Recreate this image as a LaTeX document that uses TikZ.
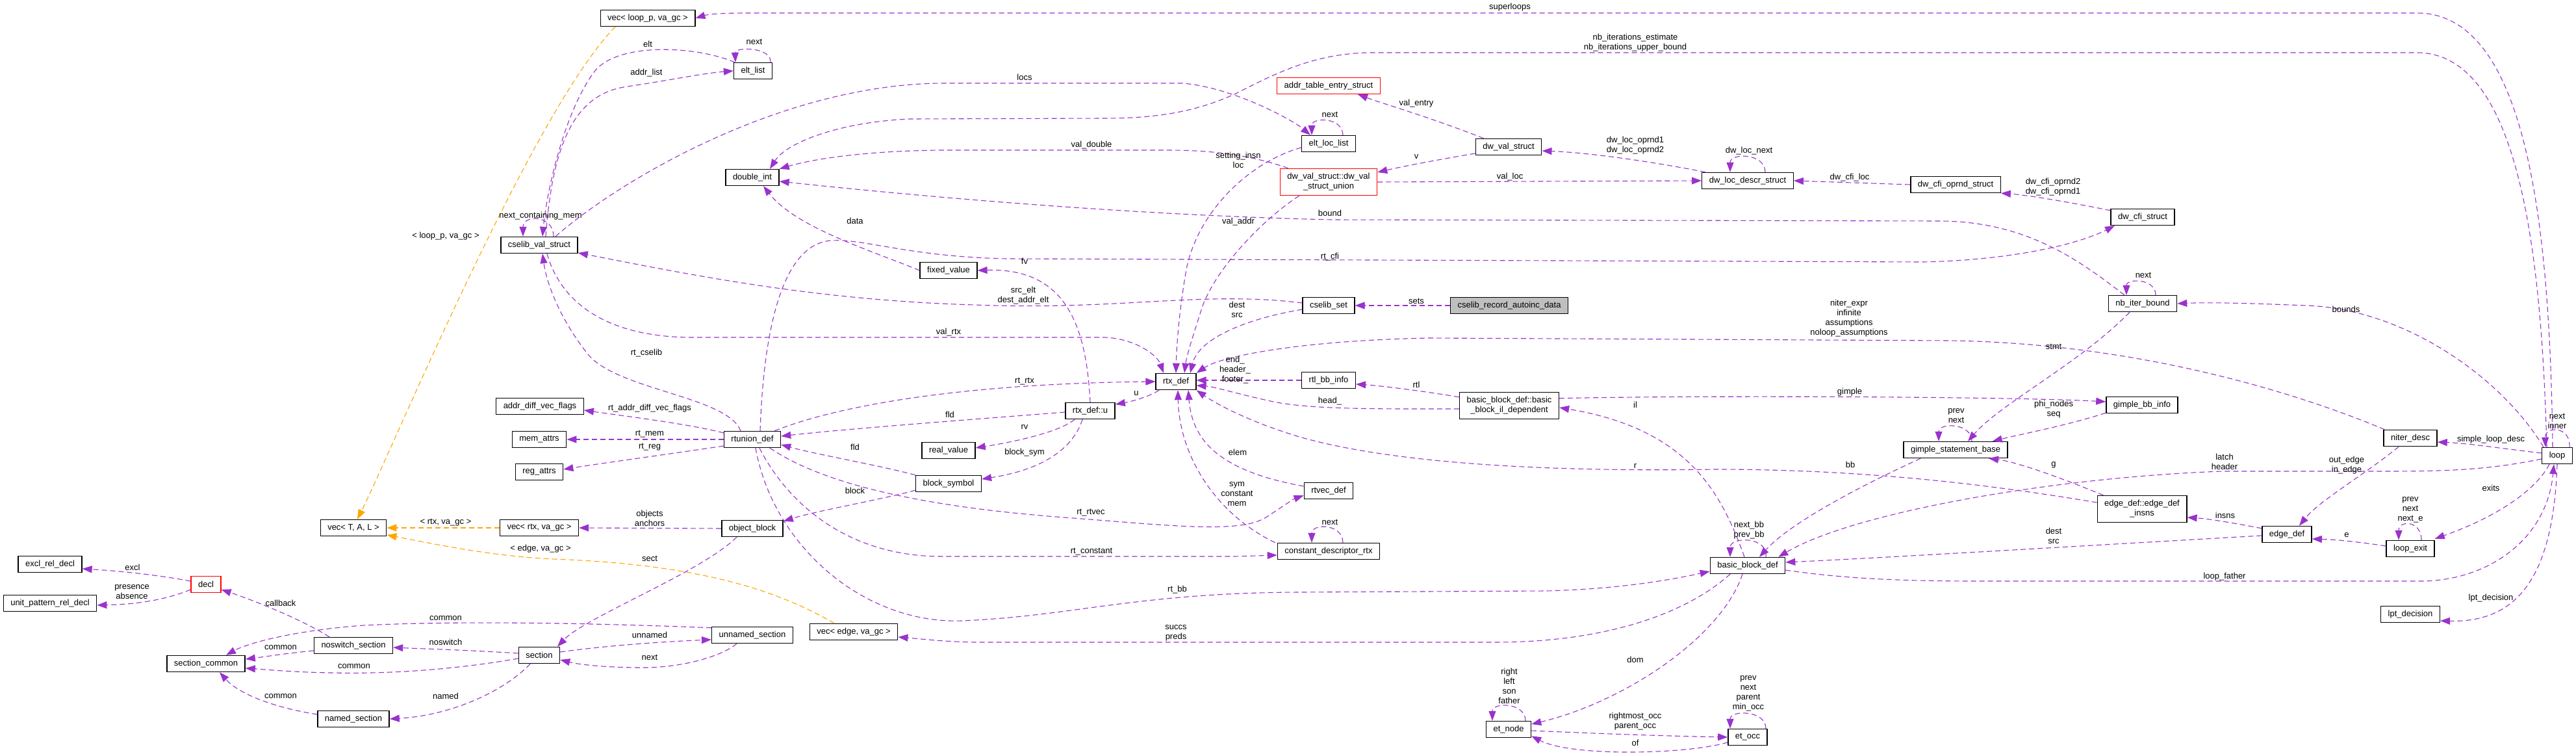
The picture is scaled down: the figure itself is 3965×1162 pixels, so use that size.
\documentclass[tikz,border=0pt]{standalone}
\usepackage{xcolor}
\usepackage{fontspec}
\setmainfont{Liberation Sans}
\usepackage{tikz}
\usetikzlibrary{arrows.meta,calc}
\definecolor{edgepurple}{HTML}{9A32CD}
\definecolor{tmplorange}{HTML}{FFA500}
\definecolor{mainfill}{HTML}{BFBFBF}
\begin{document}
\begin{tikzpicture}[x=.5pt,y=-.5pt,
  cls/.style={draw=black,line width=0.7pt,fill=white,inner xsep=5.5pt,inner ysep=0pt,minimum height=12.5pt,font=\fontsize{6.5}{7.5}\selectfont,align=center},
  clsred/.style={cls,draw=red},
  clsmain/.style={cls,fill=mainfill},
  member/.style={draw=edgepurple,line width=0.55pt,dash pattern=on 4pt off 2.5pt,-{Triangle[length=7.5pt,width=5.5pt]}},
  inst/.style={member,draw=tmplorange},
  lbl/.style={inner sep=0pt,font=\fontsize{6.5}{7.5}\selectfont,align=center}]
\path[use as bounding box] (0,0) rectangle (3965,1162);
\path[fill=white,draw=none] (0,0) rectangle (3965,1162);
% classes
\node[cls] (exclRel) at (77,868) {excl\_rel\_decl};
\node[cls] (unitPat) at (77,928) {unit\_pattern\_rel\_decl};
\node[clsred] (decl) at (317,899) {decl};
\node[cls] (secCommon) at (317,1021) {section\_common};
\node[cls] (vecTAL) at (544,812) {vec< T, A, L >};
\node[cls] (noswitch) at (544,993) {noswitch\_section};
\node[cls] (named) at (544,1106) {named\_section};
\node[cls] (cvs) at (830,377) {cselib\_val\_struct};
\node[cls] (adfv) at (831,625) {addr\_diff\_vec\_flags};
\node[cls] (memAttrs) at (830,676) {mem\_attrs};
\node[cls] (regAttrs) at (830,726) {reg\_attrs};
\node[cls] (vecRtx) at (830,812) {vec< rtx, va\_gc >};
\node[cls] (section) at (830,1008) {section};
\node[cls] (vecLoop) at (997,28) {vec< loop\_p, va\_gc >};
\node[cls] (eltList) at (1159,109) {elt\_list};
\node[cls] (doubleInt) at (1158,273) {double\_int};
\node[cls] (rtunion) at (1158,676) {rtunion\_def};
\node[cls] (objBlock) at (1158,813) {object\_block};
\node[cls] (unnamed) at (1158,977) {unnamed\_section};
\node[cls] (vecEdge) at (1314,972) {vec< edge, va\_gc >};
\node[cls] (fixedVal) at (1460,416) {fixed\_value};
\node[cls] (realVal) at (1460,693) {real\_value};
\node[cls] (blockSym) at (1460,744) {block\_symbol};
\node[cls] (rtxU) at (1678,632) {rtx\_def::u};
\node[cls] (rtx) at (1810,587) {rtx\_def};
\node[clsred] (addrTable) at (2045,132) {addr\_table\_entry\_struct};
\node[cls] (eltLoc) at (2045,221) {elt\_loc\_list};
\node[clsred,minimum height=20.5pt] (dwUnion) at (2045,280) {dw\_val\_struct::dw\_val\\\_struct\_union};
\node[cls] (cselibSet) at (2045,470) {cselib\_set};
\node[cls] (rtlBB) at (2045,585) {rtl\_bb\_info};
\node[cls] (rtvec) at (2045,755) {rtvec\_def};
\node[cls] (constDesc) at (2045,848) {constant\_descriptor\_rtx};
\node[cls] (dwVal) at (2322,226) {dw\_val\_struct};
\node[clsmain] (autoinc) at (2323,470) {cselib\_record\_autoinc\_data};
\node[cls,minimum height=20.5pt] (bbIl) at (2323,624) {basic\_block\_def::basic\\\_block\_il\_dependent};
\node[cls] (etNode) at (2322,1122) {et\_node};
\node[cls] (dwLoc) at (2690,278) {dw\_loc\_descr\_struct};
\node[cls] (bbDef) at (2690,870) {basic\_block\_def};
\node[cls] (etOcc) at (2690,1134) {et\_occ};
\node[cls] (dwCfiOp) at (3010,284) {dw\_cfi\_oprnd\_struct};
\node[cls] (gsb) at (3010,692) {gimple\_statement\_base};
\node[cls] (dwCfi) at (3298,334) {dw\_cfi\_struct};
\node[cls] (nbIter) at (3298,467) {nb\_iter\_bound};
\node[cls] (gbbInfo) at (3297,623) {gimple\_bb\_info};
\node[cls,minimum height=20.5pt] (edgeIns) at (3297,783) {edge\_def::edge\_def\\\_insns};
\node[cls] (edgeDef) at (3520,822) {edge\_def};
\node[cls] (niterDesc) at (3710,674) {niter\_desc};
\node[cls] (loopExit) at (3710,844) {loop\_exit};
\node[cls] (lptDec) at (3710,945) {lpt\_decision};
\node[cls] (loop) at (3936,701) {loop};
% template instances
\draw[inst] ($(vecLoop.south)+(-50,0)$) .. controls (820,170) and (600,700) .. ($(vecTAL.north)+(6,0)$);
\draw[inst] (vecRtx.west) -- (vecTAL.east);
\draw[inst] ($(vecEdge.north)+(-30,0)$) .. controls (1200,910) and (1080,868) .. (850,860) .. controls (750,855) and (660,835) .. ($(vecTAL.east)+(0,11)$);
% members, left part
\draw[member] ($(decl.west)+(0,-5)$) .. controls (240,884) and (180,878) .. ($(exclRel.east)+(0,7)$);
\draw[member] ($(decl.west)+(0,8)$) .. controls (250,925) and (200,930) .. ($(unitPat.east)+(0,3)$);
\draw[member] ($(noswitch.north)+(-37,0)$) .. controls (460,950) and (380,920) .. ($(decl.east)+(0,8)$);
\draw[member] ($(noswitch.west)+(0,8)$) .. controls (440,1005) and (410,1010) .. ($(secCommon.east)+(0,-7)$);
\draw[member] ($(section.west)+(0,-3)$) .. controls (720,1000) and (650,998) .. ($(noswitch.east)+(0,3)$);
\draw[member] ($(section.west)+(0,5)$) .. controls (700,1030) and (600,1037) .. (510,1035) .. controls (450,1034) and (410,1030) .. ($(secCommon.east)+(0,7)$);
\draw[member] ($(section.south)+(-14,0)$) .. controls (780,1060) and (700,1100) .. (named.east);
\draw[member] ($(named.west)+(0,-7)$) .. controls (430,1090) and (370,1070) .. ($(secCommon.south)+(21,0)$);
\draw[member] ($(unnamed.north west)+(0,2)$) .. controls (900,958) and (700,955) .. (560,962) .. controls (450,970) and (380,990) .. ($(secCommon.north)+(31,0)$);
\draw[member] ($(section.east)+(0,-5)$) .. controls (920,995) and (1000,988) .. ($(unnamed.west)+(0,7)$);
\draw[member] ($(unnamed.south)+(-24,0)$) .. controls (1110,1010) and (1050,1027) .. (990,1027) .. controls (930,1027) and (890,1022) .. ($(section.east)+(0,7)$);
\draw[member] ($(objBlock.south)+(-24,0)$) .. controls (1080,880) and (900,950) .. ($(section.north)+(28,0)$);
\draw[member] (objBlock.west) -- (vecRtx.east);
\draw[member] ($(rtunion.west)+(0,-10)$) .. controls (1060,652) and (960,640) .. ($(adfv.east)+(0,6)$);
\draw[member] (rtunion.west) -- (memAttrs.east);
\draw[member] ($(rtunion.west)+(0,10)$) .. controls (1020,700) and (930,712) .. ($(regAttrs.east)+(0,-4)$);
\draw[member] ($(rtunion.north)+(-18,0)$) .. controls (1120,610) and (950,600) .. (905,545) .. controls (865,495) and (842,440) .. ($(cvs.south)+(5,0)$);
\draw[member] ($(cvs.north)+(22,0)$) .. controls (852,330) and (805,330) .. ($(cvs.north)+(-25,0)$);
\draw[member] ($(eltList.north west)+(2,0)$) .. controls (1070,70) and (950,65) .. (915,110) .. controls (870,170) and (842,290) .. ($(cvs.north)+(5,0)$);
\draw[member] ($(cvs.north)+(10,0)$) .. controls (850,230) and (880,148) .. (960,134) .. controls (1040,122) and (1080,113) .. (eltList.west);
\draw[member] ($(eltList.north)+(27,0)$) .. controls (1188,72) and (1131,72) .. ($(eltList.north)+(-27,0)$);
\draw[member] ($(cvs.north)+(25,0)$) .. controls (950,280) and (1200,130) .. (1450,128) -- (1820,128) .. controls (1900,135) and (1990,185) .. ($(eltLoc.north west)+(14,0)$);
\draw[member] ($(cvs.south)+(12,0)$) .. controls (860,455) and (920,517) .. (1060,519) -- (1700,519) .. controls (1750,521) and (1782,548) .. ($(rtx.north)+(-19,0)$);
\draw[member] (fixedVal.west) .. controls (1340,385) and (1225,350) .. ($(doubleInt.south)+(17,0)$);
\draw[member] (rtxU.north) .. controls (1672,500) and (1640,412) .. (fixedVal.east);
\draw[member] ($(rtx.south)+(-26,0)$) .. controls (1770,610) and (1740,618) .. ($(rtxU.east)+(0,-10)$);
\draw[member] ($(rtxU.west)+(0,2)$) .. controls (1500,645) and (1300,660) .. ($(rtunion.east)+(0,-5)$);
\draw[member] ($(rtxU.south west)+(15,0)$) .. controls (1630,665) and (1560,680) .. ($(realVal.east)+(0,-4)$);
\draw[member] ($(rtxU.south)+(-12,0)$) .. controls (1655,680) and (1620,720) .. ($(blockSym.east)+(0,-7)$);
\draw[member] ($(rtunion.north east)+(-10,0)$) .. controls (1300,620) and (1500,590) .. (rtx.west);
\draw[member] (blockSym.north west) .. controls (1350,715) and (1260,700) .. ($(rtunion.east)+(0,8)$);
\draw[member] ($(blockSym.south west)+(0,-3)$) .. controls (1350,770) and (1260,785) .. ($(objBlock.north east)+(0,2)$);
\draw[member] ($(rtunion.south)+(27,0)$) .. controls (1260,740) and (1400,778) .. (1638,796) .. controls (1800,808) and (1910,822) .. (1950,795) .. controls (1970,782) and (1990,768) .. ($(rtvec.south west)+(0,-6)$);
\draw[member] ($(rtunion.south)+(11,0)$) .. controls (1210,770) and (1300,856) .. (1450,856) -- (1900,856) -- ($(constDesc.west)+(0,6)$);
\draw[member] ($(rtunion.south)+(5,0)$) .. controls (1190,840) and (1330,960) .. (1480,955) .. controls (1650,948) and (1750,912) .. (2000,911) -- (2380,909) .. controls (2500,906) and (2580,890) .. ($(bbDef.west)+(0,9)$);
\draw[member] ($(rtunion.north)+(12,0)$) .. controls (1175,520) and (1200,375) .. (1280,370) .. controls (1330,367) and (1400,395) .. (1550,398) -- (2960,403) .. controls (3100,400) and (3200,375) .. ($(dwCfi.south)+(-43,0)$);
% members, middle part
\draw[member] (autoinc.west) -- (cselibSet.east);
\draw[member] ($(cselibSet.west)+(0,-4)$) .. controls (1850,447) and (1720,478) .. (1500,469) .. controls (1250,462) and (1050,420) .. ($(cvs.east)+(0,12)$);
\draw[member] ($(cselibSet.west)+(0,6)$) .. controls (1920,490) and (1845,520) .. ($(rtx.north)+(22,0)$);
\draw[member] ($(eltLoc.north)+(22,0)$) .. controls (2067,180) and (2019,180) .. ($(eltLoc.north)+(-26,0)$);
\draw[member] ($(eltLoc.west)+(0,6)$) .. controls (1920,250) and (1840,330) .. (1825,420) .. controls (1815,480) and (1811,530) .. (rtx.north);
\draw[member] ($(dwUnion.south west)+(30,0)$) .. controls (1940,340) and (1865,420) .. (1848,480) .. controls (1835,520) and (1826,550) .. ($(rtx.north)+(13,0)$);
\draw[member] ($(dwUnion.north west)+(13,0)$) .. controls (1930,240) and (1870,231) .. (1800,231) -- (1450,231) .. controls (1330,232) and (1250,245) .. (doubleInt.north east);
\draw[member] ($(dwVal.north west)+(13,0)$) .. controls (2200,180) and (2130,160) .. ($(addrTable.south east)+(-35,0)$);
\draw[member] ($(dwVal.west)+(0,10)$) .. controls (2200,248) and (2150,258) .. ($(dwUnion.east)+(0,-15)$);
\draw[member] (dwUnion.east) -- (dwLoc.west);
\draw[member] ($(dwLoc.north west)+(6,0)$) .. controls (2550,250) and (2450,235) .. ($(dwVal.east)+(0,6)$);
\draw[member] ($(dwLoc.north)+(27,0)$) .. controls (2717,235) and (2663,235) .. ($(dwLoc.north)+(-27,0)$);
\draw[member] (dwCfiOp.west) -- (dwLoc.east);
\draw[member] ($(dwCfi.north west)+(0,3)$) .. controls (3180,310) and (3120,300) .. (dwCfiOp.south east);
\draw[member] (rtlBB.west) -- ($(rtx.east)+(0,-2)$);
\draw[member] ($(bbIl.west)+(0,5)$) .. controls (2120,629) and (2020,630) .. (1960,618) .. controls (1900,605) and (1870,595) .. ($(rtx.east)+(0,6)$);
\draw[member] ($(bbIl.north west)+(0,8)$) .. controls (2180,600) and (2120,593) .. ($(rtlBB.east)+(0,6)$);
\draw[member] ($(rtvec.west)+(0,-7)$) .. controls (1880,725) and (1835,680) .. ($(rtx.south)+(19,0)$);
\draw[member] ($(constDesc.north west)+(-3,0)$) .. controls (1870,790) and (1815,700) .. ($(rtx.south)+(3,0)$);
\draw[member] ($(constDesc.north)+(22,0)$) .. controls (2067,805) and (2019,805) .. ($(constDesc.north)+(-26,0)$);
\draw[member] ($(edgeIns.west)+(0,-10)$) .. controls (3100,752) and (2900,722) .. (2640,722) .. controls (2400,726) and (2150,715) .. (2000,672) .. controls (1920,648) and (1870,620) .. (rtx.south east);
\draw[member] ($(niterDesc.north west)+(2,0)$) .. controls (3550,610) and (3300,528) .. (3000,524) -- (2200,520) .. controls (2000,524) and (1880,548) .. (rtx.north east);
% members, right part
\draw[member] ($(bbIl.north east)+(0,10)$) .. controls (2600,608) and (3100,610) .. ($(gbbInfo.west)+(0,-5)$);
\draw[member] ($(bbDef.north)+(-5,0)$) .. controls (2650,760) and (2600,660) .. ($(bbIl.east)+(0,3)$);
\draw[member] ($(bbDef.north)+(28,0)$) .. controls (2722,825) and (2663,825) .. ($(bbDef.north)+(-27,0)$);
\draw[member] ($(bbDef.south)+(-27,0)$) .. controls (2600,940) and (2480,988) .. (2300,988) -- (1500,988) .. controls (1450,987) and (1420,983) .. ($(vecEdge.east)+(0,8)$);
\draw[member] ($(bbDef.south)+(-8,0)$) .. controls (2650,980) and (2500,1080) .. ($(etNode.east)+(0,-8)$);
\draw[member] ($(etNode.north)+(26,0)$) .. controls (2348,1080) and (2297,1080) .. ($(etNode.north)+(-25,0)$);
\draw[member] ($(etNode.east)+(0,2)$) .. controls (2450,1128) and (2550,1132) .. (etOcc.west);
\draw[member] ($(etOcc.west)+(0,8)$) .. controls (2600,1160) and (2420,1165) .. ($(etNode.south east)+(0,-3)$);
\draw[member] ($(etOcc.north)+(28,0)$) .. controls (2718,1092) and (2663,1092) .. ($(etOcc.north)+(-27,0)$);
\draw[member] ($(gbbInfo.south west)+(0,-1)$) .. controls (3180,655) and (3110,668) .. ($(gsb.north east)+(-24,0)$);
\draw[member] ($(gsb.north)+(25,0)$) .. controls (3035,650) and (2984,650) .. ($(gsb.north)+(-26,0)$);
\draw[member] ($(gsb.south west)+(27,0)$) .. controls (2880,740) and (2760,800) .. ($(bbDef.north)+(18,0)$);
\draw[member] ($(nbIter.south)+(-20,0)$) .. controls (3200,560) and (3080,620) .. ($(gsb.north)+(19,0)$);
\draw[member] ($(nbIter.north west)+(25,0)$) .. controls (3200,400) and (3120,342) .. (2990,340) -- (2050,338) .. controls (1700,330) and (1350,295) .. ($(doubleInt.east)+(0,6)$);
\draw[member] ($(nbIter.north)+(20,0)$) .. controls (3318,428) and (3273,428) .. ($(nbIter.north)+(-25,0)$);
\draw[member] ($(edgeIns.north west)+(10,0)$) .. controls (3160,730) and (3100,710) .. ($(gsb.south)+(51,0)$);
\draw[member] ($(edgeDef.north west)+(0,4)$) .. controls (3440,805) and (3400,798) .. ($(edgeIns.east)+(0,13)$);
\draw[member] ($(edgeDef.west)+(0,2)$) .. controls (3200,840) and (2900,858) .. ($(bbDef.east)+(0,-5)$);
\draw[member] ($(loopExit.west)+(0,-4)$) .. controls (3620,832) and (3590,830) .. ($(edgeDef.east)+(0,7)$);
\draw[member] ($(loopExit.north)+(17,0)$) .. controls (3727,800) and (3692,800) .. ($(loopExit.north)+(-18,0)$);
\draw[member] ($(niterDesc.south)+(-18,0)$) .. controls (3640,730) and (3570,770) .. ($(edgeDef.north)+(19,0)$);
\draw[member] ($(loop.west)+(0,-4)$) .. controls (3850,690) and (3800,682) .. ($(niterDesc.east)+(0,6)$);
\draw[member] ($(loop.west)+(0,5)$) .. controls (3820,725) and (3750,725) .. (3650,725) -- (3420,725) .. controls (3150,735) and (2850,790) .. ($(bbDef.north east)+(-11,0)$);
\draw[member] ($(loop.south)+(-12,0)$) .. controls (3900,760) and (3830,800) .. ($(loopExit.north east)+(0,-2)$);
\draw[member] ($(bbDef.east)+(0,7)$) .. controls (2850,892) and (2950,894) .. (3050,894) -- (3730,894) .. controls (3830,892) and (3920,830) .. ($(loop.south)+(-5,0)$);
\draw[member] (loop.south) .. controls (3930,880) and (3880,958) .. ($(lptDec.east)+(0,10)$);
\draw[member] ($(loop.north)+(19,0)$) .. controls (3957,655) and (3917,655) .. ($(loop.north)+(-18,0)$);
\draw[member] ($(loop.north)+(-21,0)$) .. controls (3850,580) and (3700,475) .. (3550,470) .. controls (3450,466) and (3400,465) .. (nbIter.east);
\draw[member] ($(loop.north)+(-16,0)$) .. controls (3912,400) and (3880,81) .. (3720,81) -- (2110,81) .. controls (2020,82) and (1960,115) .. (1900,145) .. controls (1840,172) and (1780,182) .. (1700,182) -- (1400,183) .. controls (1290,188) and (1210,220) .. ($(doubleInt.north)+(27,0)$);
\draw[member] ($(loop.north)+(-7,0)$) .. controls (3925,350) and (3890,20) .. (3720,20) -- (1150,20) .. controls (1110,20) and (1090,22) .. (vecLoop.east);
% labels
\node[lbl] (lLoopP) at (686,363) {< loop\_p, va\_gc >};
\node[lbl] (lRtxGc) at (686,804) {< rtx, va\_gc >};
\node[lbl] (lEdgeGc) at (832,844) {< edge, va\_gc >};
\node[lbl] (lExcl) at (204,873) {excl};
\node[lbl] (lPresence) at (203,911) {presence\\absence};
\node[lbl] (lCallback) at (432,928) {callback};
\node[lbl] (lCommonA) at (686,951) {common};
\node[lbl] (lCommonB) at (432,996) {common};
\node[lbl] (lNoswitch) at (686,988) {noswitch};
\node[lbl] (lCommonC) at (545,1025) {common};
\node[lbl] (lNamed) at (686,1071) {named};
\node[lbl] (lCommonD) at (432,1071) {common};
\node[lbl] (lUnnamed) at (1000,977) {unnamed};
\node[lbl] (lNextSec) at (1000,1011) {next};
\node[lbl] (lSect) at (1000,859) {sect};
\node[lbl] (lObjects) at (1000,797) {objects\\anchors};
\node[lbl] (lAddrDiff) at (1000,628) {rt\_addr\_diff\_vec\_flags};
\node[lbl] (lRtMem) at (1000,668) {rt\_mem};
\node[lbl] (lRtReg) at (1000,688) {rt\_reg};
\node[lbl] (lRtCselib) at (995,543) {rt\_cselib};
\node[lbl] (lNextCont) at (832,332) {next\_containing\_mem};
\node[lbl] (lElt) at (997,68) {elt};
\node[lbl] (lAddrList) at (995,112) {addr\_list};
\node[lbl] (lNextElt) at (1161,64) {next};
\node[lbl] (lLocs) at (1577,119) {locs};
\node[lbl] (lValDouble) at (1680,223) {val\_double};
\node[lbl] (lSetting) at (1906,246) {setting\_insn\\loc};
\node[lbl] (lData) at (1316,340) {data};
\node[lbl] (lValAddr) at (1906,341) {val\_addr};
\node[lbl] (lFv) at (1577,402) {fv};
\node[lbl] (lSrcElt) at (1575,455) {src\_elt\\dest\_addr\_elt};
\node[lbl] (lDestSrcA) at (1904,476) {dest\\src};
\node[lbl] (lValRtx) at (1460,511) {val\_rtx};
\node[lbl] (lEndHdr) at (1901,569) {end\_\\header\_\\footer\_};
\node[lbl] (lRtRtx) at (1577,587) {rt\_rtx};
\node[lbl] (lU) at (1749,605) {u};
\node[lbl] (lFldA) at (1462,638) {fld};
\node[lbl] (lRv) at (1577,657) {rv};
\node[lbl] (lFldB) at (1316,688) {fld};
\node[lbl] (lBlockSym) at (1577,696) {block\_sym};
\node[lbl] (lElem) at (1905,696) {elem};
\node[lbl] (lBlock) at (1316,755) {block};
\node[lbl] (lSym) at (1904,760) {sym\\constant\\mem};
\node[lbl] (lRtRtvec) at (1679,789) {rt\_rtvec};
\node[lbl] (lRtConst) at (1680,849) {rt\_constant};
\node[lbl] (lRtBb) at (1812,907) {rt\_bb};
\node[lbl] (lSuccs) at (1810,974) {succs\\preds};
\node[lbl] (lSuperloops) at (2324,11) {superloops};
\node[lbl] (lNbIter) at (2517,66) {nb\_iterations\_estimate\\nb\_iterations\_upper\_bound};
\node[lbl] (lValEntry) at (2180,159) {val\_entry};
\node[lbl] (lNextLoc) at (2047,176) {next};
\node[lbl] (lV) at (2180,241) {v};
\node[lbl] (lValLoc) at (2324,272) {val\_loc};
\node[lbl] (lOprnd) at (2517,224) {dw\_loc\_oprnd1\\dw\_loc\_oprnd2};
\node[lbl] (lLocNext) at (2692,232) {dw\_loc\_next};
\node[lbl] (lCfiLoc) at (2847,273) {dw\_cfi\_loc};
\node[lbl] (lBound) at (2047,328) {bound};
\node[lbl] (lRtCfi) at (2047,395) {rt\_cfi};
\node[lbl] (lSets) at (2180,463) {sets};
\node[lbl] (lNiter) at (2846,490) {niter\_expr\\infinite\\assumptions\\noloop\_assumptions};
\node[lbl] (lRtl) at (2180,592) {rtl};
\node[lbl] (lHead) at (2047,617) {head\_};
\node[lbl] (lGimple) at (2847,603) {gimple};
\node[lbl] (lIl) at (2517,623) {il};
\node[lbl] (lR) at (2517,717) {r};
\node[lbl] (lBb) at (2848,715) {bb};
\node[lbl] (lNextConst) at (2047,803) {next};
\node[lbl] (lNextBb) at (2692,816) {next\_bb\\prev\_bb};
\node[lbl] (lDom) at (2517,1015) {dom};
\node[lbl] (lRight) at (2323,1055) {right\\left\\son\\father};
\node[lbl] (lPrevOcc) at (2691,1067) {prev\\next\\parent\\min\_occ};
\node[lbl] (lRightmost) at (2517,1110) {rightmost\_occ\\parent\_occ};
\node[lbl] (lOf) at (2517,1143) {of};
\node[lbl] (lCfiOprnd) at (3160,288) {dw\_cfi\_oprnd2\\dw\_cfi\_oprnd1};
\node[lbl] (lNextBound) at (3299,423) {next};
\node[lbl] (lBounds) at (3611,476) {bounds};
\node[lbl] (lStmt) at (3161,533) {stmt};
\node[lbl] (lPhi) at (3161,630) {phi\_nodes\\seq};
\node[lbl] (lPrevGsb) at (3011,640) {prev\\next};
\node[lbl] (lNextInner) at (3936,648) {next\\inner};
\node[lbl] (lSimple) at (3834,676) {simple\_loop\_desc};
\node[lbl] (lLatch) at (3424,710) {latch\\header};
\node[lbl] (lOutEdge) at (3612,716) {out\_edge\\in\_edge};
\node[lbl] (lG) at (3161,715) {g};
\node[lbl] (lExits) at (3834,751) {exits};
\node[lbl] (lPrevExit) at (3710,784) {prev\\next\\next\_e};
\node[lbl] (lInsns) at (3425,793) {insns};
\node[lbl] (lDestSrcB) at (3161,824) {dest\\src};
\node[lbl] (lE) at (3612,823) {e};
\node[lbl] (lLoopFather) at (3424,887) {loop\_father};
\node[lbl] (lLpt) at (3834,920) {lpt\_decision};
\end{tikzpicture}
\end{document}
